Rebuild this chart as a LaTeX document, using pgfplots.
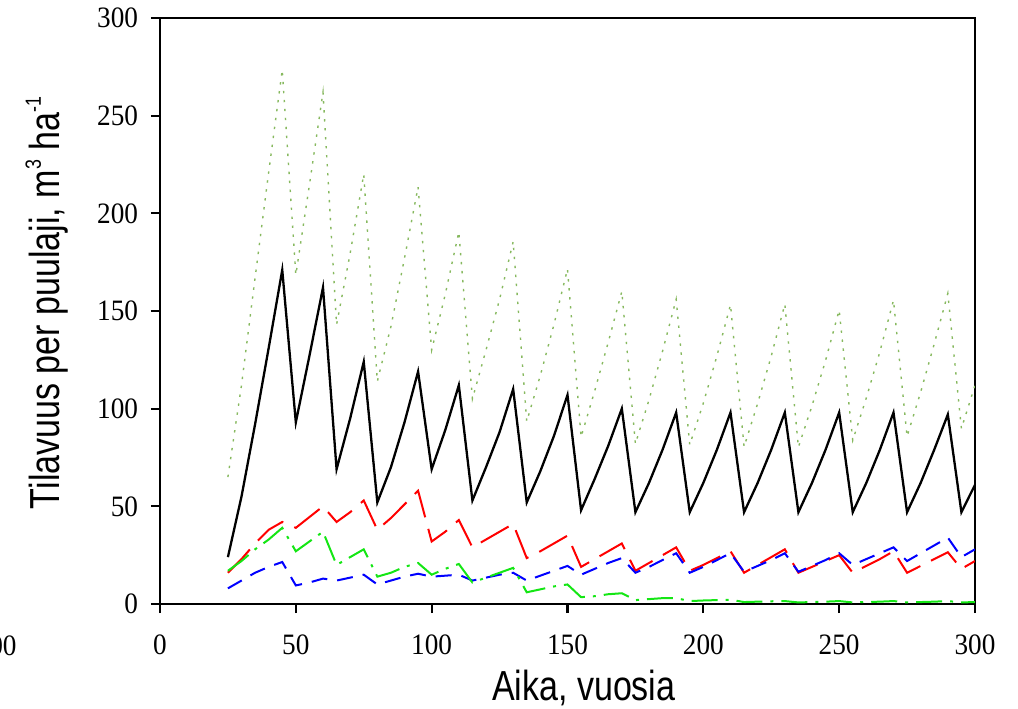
\documentclass[border=0pt]{standalone}
\usepackage{fontspec}
\usepackage{graphicx}
\usepackage{pgfplots}
\usepackage{pgfplotstable}
\pgfplotsset{compat=1.18}
\newfontfamily\labelfam{Liberation Sans}[FakeStretch=0.81]
\newfontfamily\tickfam{Liberation Serif}[FakeStretch=0.92]
\newcommand\labelfont{\labelfam\fontsize{21}{24}\selectfont}
\newcommand\tickfont{\tickfam\fontsize{14.8}{17}\selectfont}
\newcommand\supr[1]{\raisebox{9.5pt}{\labelfam\fontsize{11}{12}\selectfont #1}}
\definecolor{totc}{RGB}{135,185,95}
\definecolor{grn}{RGB}{20,230,20}

\pgfplotstableread{
x black red blue green total
25 24 16 8 17 65
30 55 23 12 22 112
35 92 31 16 28 167
40 131 38 19 33 221
45 171 42 21.5 39 273.5
50 93 39 9.5 27 168.5
55 127 44.5 11 32 214.5
60 162 50 13 37 262
65 69 42 12 20 143
70 95 47 13.5 24 179.5
75 124 53 15 28 220
80 52 38 10 14 114
85 70 44 12 16 142
90 93 51 14 19 177
95 119 58 15.5 21 213.5
100 69 32 14 15 130
105 89 37 14.5 18 158.5
110 112 43 15 20.5 190.5
115 53 29 12 11 105
120 70 33 13.5 13.5 130
125 88 37 15 16 156
130 110 41 16 18.5 185.5
135 52 23.5 12 6 93.5
140 68 27 14.5 7.5 117
145 86 31 17 9 143
150 107 35 19.5 10 171.5
155 48 19 15 3.5 85.5
160 64 23 18 4 109
165 81 27 21 5 134
170 100 31 23.5 5.5 160
175 47 17 16 2 82
180 62 21 19 2.5 104.5
185 79 25 22.5 3 129.5
190 98 29 26 3 156
195 47 17 16 1.5 81.5
200 62 20 19 1.8 102.8
205 79 23.5 22.5 2 127
210 98 27 26 2.2 153.2
215 47 16 16.5 1 80.5
220 62 20 19.5 1.2 102.7
225 79 24 22.5 1.4 126.9
230 98 28 26 1.5 153.5
235 47 16 16.5 0.8 80.3
240 62 19 19.5 1 101.5
245 79 22 22.5 1.2 124.7
250 98 25 26 1.5 150.5
255 47 16 20 0.8 83.8
260 62 19.5 23 1 105.5
265 79 23 26 1.2 129.2
270 98 27 29 1.5 155.5
275 47 16 22 0.8 85.8
280 62 19.5 26 1 108.5
285 79 23 30 1.2 133.2
290 97 26.5 34 1.5 159
295 47 18 24 0.8 89.8
300 61 22 28 1 112
}\data

\begin{document}
\begin{tikzpicture}
\path[use as bounding box] (-80pt,-52pt) rectangle (429pt,302pt);
\begin{axis}[name=ax, at={(0pt,0pt)}, anchor=south west,
  scale only axis, width=407.5pt, height=293pt,
  xmin=0, xmax=300, ymin=0, ymax=300,
  xtick={0,50,...,300}, ytick={0,50,...,300},
  axis line style={line width=1.1pt},
  tick align=outside, tick pos=left,
  major tick length=4.5pt,
  tick style={line width=1.1pt, black},
  ticklabel style={font=\tickfont, inner sep=0pt},
  xticklabel style={yshift=-10.7pt},
  yticklabel style={xshift=-6.25pt},
  /pgf/number format/assume math mode=true,
  every axis x label/.style={at={(axis description cs:0.52,-0.164)}, anchor=base},
  every axis y label/.style={at={(axis description cs:-0.1227,0.5137)}, rotate=90, anchor=base},
  label style={font=\labelfont, inner sep=0pt},
  xlabel={Aika, vuosia},
  ylabel={Tilavuus per puulaji, m\supr{3} ha\supr{-1}},
]
\addplot[totc, line width=0.7pt, dash pattern=on 1.2pt off 3.3pt] table[x=x,y=total] {\data};
\addplot[black, line width=1.15pt] table[x=x,y=black] {\data};
\addplot[red, line width=1pt, dash pattern=on 16pt off 6pt] table[x=x,y=red] {\data};
\addplot[blue, line width=1pt, dash pattern=on 8pt off 5pt] table[x=x,y=blue] {\data};
\addplot[grn, line width=1pt, dash pattern=on 13pt off 4pt on 1.5pt off 4pt] table[x=x,y=green] {\data};
\end{axis}
\node[font=\tickfont, inner sep=0pt, anchor=north east] at (-71.5pt,-15.5pt) {300};
\end{tikzpicture}
\end{document}
